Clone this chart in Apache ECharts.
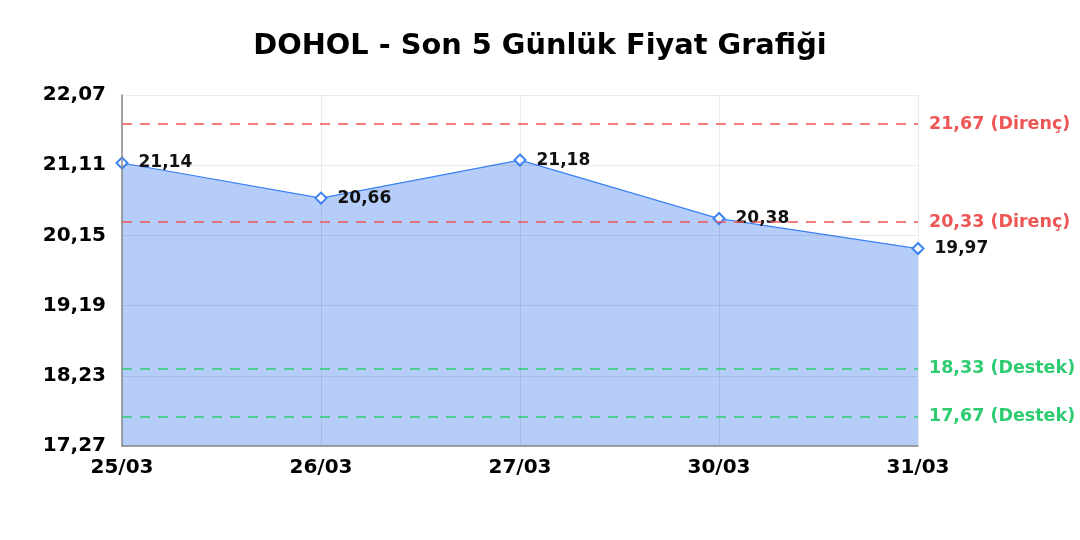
<!DOCTYPE html>
<html>
<head>
<meta charset="utf-8">
<script src="https://cdn.jsdelivr.net/npm/echarts@6/dist/echarts.min.js"></script>
<style>
html,body{margin:0;padding:0;background:#fff;}
#c{width:1080px;height:540px;}
</style>
</head>
<body>
<div id="c"></div>
<script>
const titleText = 'DOHOL - Son 5 Günlük Fiyat Grafiği';
const categories = ['25/03', '26/03', '27/03', '30/03', '31/03'];
const prices = [21.14, 20.66, 21.18, 20.38, 19.97];
const resistanceLevels = [21.67, 20.33];
const supportLevels = [18.33, 17.67];
const yMin = 17.27, yMax = 22.07, yStep = 0.96;

const fmt = v => v.toFixed(2).replace('.', ',');
const font = '"DejaVu Sans", sans-serif';

const markData = [];
resistanceLevels.forEach(v => markData.push({
  yAxis: v,
  lineStyle: {color: '#ee5555', type: [10, 8], width: 1.5},
  label: {formatter: fmt(v) + ' (Direnç)', color: '#ee5555'}
}));
supportLevels.forEach(v => markData.push({
  yAxis: v,
  lineStyle: {color: '#2ecc71', type: [10, 8], width: 1.5},
  label: {formatter: fmt(v) + ' (Destek)', color: '#2ecc71'}
}));

const chart = echarts.init(document.getElementById('c'));
chart.setOption({
  animation: false,
  title: {
    text: titleText, left: 'center', top: 27,
    textStyle: {fontFamily: font, fontSize: 28.8, fontWeight: 'bold', color: '#000'}
  },
  grid: {left: 122, right: 162, top: 95, bottom: 94},
  xAxis: {
    type: 'category', data: categories, boundaryGap: false, z: 3,
    axisLine: {lineStyle: {color: '#888', width: 1.5}},
    axisTick: {show: false},
    axisLabel: {fontFamily: font, fontSize: 20, fontWeight: 'bold', color: '#000', margin: 12},
    splitLine: {show: true, lineStyle: {color: 'rgba(0,0,0,0.08)'}}
  },
  yAxis: {
    type: 'value', min: yMin, max: yMax, interval: yStep, z: 3,
    axisLine: {show: true, lineStyle: {color: '#888', width: 1.5}},
    axisTick: {show: false},
    axisLabel: {fontFamily: font, fontSize: 20, fontWeight: 'bold', color: '#000', margin: 16, formatter: v => fmt(v)},
    splitLine: {show: true, lineStyle: {color: 'rgba(0,0,0,0.08)'}}
  },
  series: [{
    type: 'line', data: prices, z: 2,
    symbol: 'emptyDiamond', symbolSize: 11,
    lineStyle: {color: '#3b82f6', width: 1.2},
    itemStyle: {color: '#3b82f6', borderWidth: 2},
    areaStyle: {color: '#b5cdf8', opacity: 1, origin: 'start'},
    label: {
      show: true, position: 'right', distance: 10,
      fontFamily: font, fontSize: 17, fontWeight: 'bold', color: '#111',
      formatter: p => fmt(p.value)
    },
    markLine: {
      symbol: 'none', silent: true, z: 5,
      label: {position: 'end', distance: 11, fontFamily: font, fontSize: 17.5, fontWeight: 'bold'},
      data: markData
    }
  }]
});
</script>
</body>
</html>
